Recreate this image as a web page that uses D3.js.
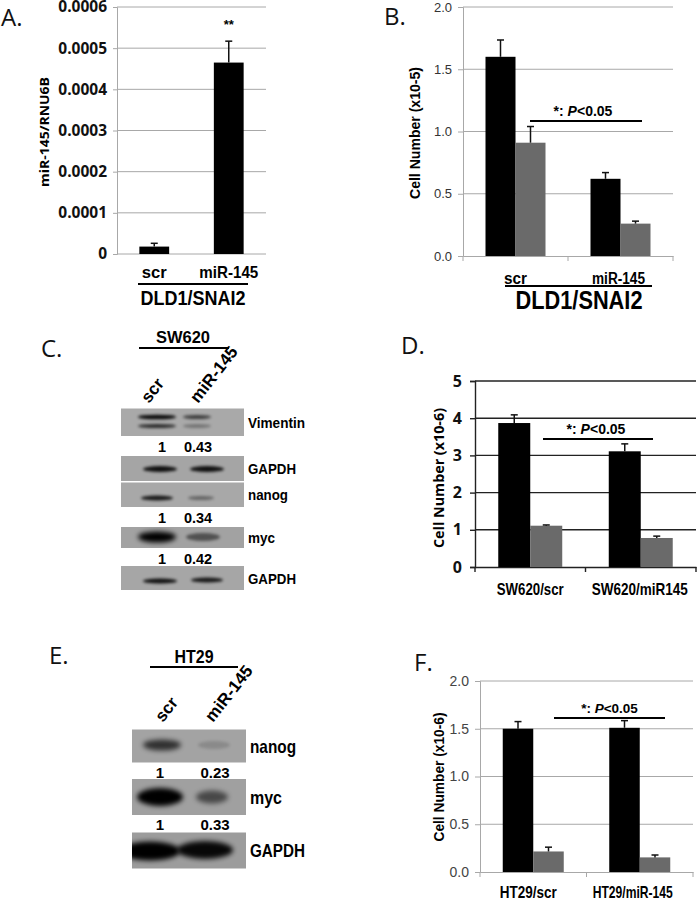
<!DOCTYPE html>
<html><head><meta charset="utf-8">
<script src="https://cdn.jsdelivr.net/npm/d3@7"></script>
<style>body{margin:0;background:#fff}svg{display:block}</style>
</head><body>
<svg id="fig" width="699" height="900"></svg>
<script>
// ---------------- DATA ----------------
const panelA_categories = ['scr', 'miR-145'];
const panelA_values = [0.000018, 0.000465];
const panelA_errors = [0.000008, 0.000052];
const panelA_ticks = [0, 0.0001, 0.0002, 0.0003, 0.0004, 0.0005, 0.0006];
const panelA_tickLabels = ['0', '0.0001', '0.0002', '0.0003', '0.0004', '0.0005', '0.0006'];

const panelB_groups = ['scr', 'miR-145'];
const panelB_black = [1.60, 0.62];
const panelB_blackErr = [0.135, 0.05];
const panelB_gray = [0.91, 0.26];
const panelB_grayErr = [0.13, 0.02];
const panelB_ticks = [0.0, 0.5, 1.0, 1.5, 2.0];
const panelB_tickLabels = ['0.0', '0.5', '1.0', '1.5', '2.0'];

const panelD_groups = ['SW620/scr', 'SW620/miR145'];
const panelD_black = [3.87, 3.11];
const panelD_blackErr = [0.22, 0.2];
const panelD_gray = [1.11, 0.78];
const panelD_grayErr = [0.02, 0.05];
const panelD_ticks = [0, 1, 2, 3, 4, 5];
const panelD_tickLabels = ['0', '1', '2', '3', '4', '5'];

const panelF_groups = ['HT29/scr', 'HT29/miR-145'];
const panelF_black = [1.50, 1.51];
const panelF_blackErr = [0.075, 0.075];
const panelF_gray = [0.215, 0.153];
const panelF_grayErr = [0.045, 0.025];
const panelF_ticks = [0.0, 0.5, 1.0, 1.5, 2.0];
const panelF_tickLabels = ['0.0', '0.5', '1.0', '1.5', '2.0'];

const blot_lanes = ['scr', 'miR-145'];
const blotC_rows = ['Vimentin', 'GAPDH', 'nanog', 'myc', 'GAPDH'];
const blotC_scr = [0.95, 0.9, 0.85, 1.0, 0.9];
const blotC_mir = [0.65, 0.9, 0.4, 0.5, 0.85];
const blotC_vimLower = [0.75, 0.35];
const blotC_quantScr = ['1', '', '1', '1', ''];
const blotC_quantMir = ['0.43', '', '0.34', '0.42', ''];

const blotE_rows = ['nanog', 'myc', 'GAPDH'];
const blotE_scr = [0.7, 1.0, 1.0];
const blotE_mir = [0.15, 0.55, 0.95];
const blotE_quantScr = ['1', '1', ''];
const blotE_quantMir = ['0.23', '0.33', ''];

// ---------------- STYLE ----------------
const svg = d3.select('#fig');
const F_CAL = "'Open Sans', 'Lato', sans-serif";
const F_ARI = "'Liberation Sans', Arial, sans-serif";
const GRAY_BAR = '#6a6a6a';

function fit(sel, w) {
  if (w) sel.attr('textLength', w).attr('lengthAdjust', 'spacingAndGlyphs');
  return sel;
}

const defs = svg.append('defs');
defs.append('filter').attr('id', 'blur').attr('x', '-50%').attr('y', '-100%').attr('width', '200%').attr('height', '300%')
  .append('feGaussianBlur').attr('stdDeviation', 1.4);
defs.append('filter').attr('id', 'blur2').attr('x', '-50%').attr('y', '-100%').attr('width', '200%').attr('height', '300%')
  .append('feGaussianBlur').attr('stdDeviation', 2.5);

function letter(t, x, y) {
  svg.append('text').attr('x', x).attr('y', y).text(t)
    .attr('font-family', F_CAL).attr('font-size', 24).attr('fill', '#111');
}
letter('A.', 1, 26); letter('B.', 384, 25); letter('C.', 41, 357);
letter('D.', 401, 354); letter('E.', 49, 664); letter('F.', 414, 671);

function errBar(g, x, y0, y1, cap, color) {
  g.append('line').attr('x1', x).attr('x2', x).attr('y1', y0).attr('y2', y1)
    .attr('stroke', color).attr('stroke-width', 1.5);
  g.append('line').attr('x1', x - cap / 2).attr('x2', x + cap / 2).attr('y1', y1).attr('y2', y1)
    .attr('stroke', color).attr('stroke-width', 1.5);
}

// ---------------- PANEL A ----------------
(function () {
  const g = svg.append('g');
  const x = d3.scaleBand().domain(panelA_categories).range([117, 266]).paddingInner(0.6).paddingOuter(0.3);
  const y = d3.scaleLinear().domain([0, 0.0006]).range([254, 7]);
  g.selectAll('line.grid').data(panelA_ticks).join('line')
    .attr('x1', 117).attr('x2', 266).attr('y1', d => y(d)).attr('y2', d => y(d))
    .attr('stroke', '#a8a8a8').attr('stroke-width', 1);
  const ax = d3.axisLeft(y).tickValues(panelA_ticks).tickFormat((d, i) => panelA_tickLabels[i]).tickSize(4).tickPadding(6);
  const ag = g.append('g').attr('transform', 'translate(117,0)').call(ax);
  ag.select('.domain').attr('stroke', '#a8a8a8');
  ag.selectAll('.tick line').attr('stroke', '#a8a8a8');
  ag.selectAll('text').attr('font-family', F_CAL).attr('font-weight', 'bold').attr('font-size', 15.5).attr('fill', '#111');
  g.selectAll('rect.bar').data(panelA_values).join('rect')
    .attr('x', (d, i) => x(panelA_categories[i])).attr('width', x.bandwidth())
    .attr('y', d => y(d)).attr('height', d => 254 - y(d)).attr('fill', '#000');
  panelA_values.forEach((v, i) => errBar(g, x(panelA_categories[i]) + x.bandwidth() / 2, y(v), y(v + panelA_errors[i]), 7, '#111'));
  g.append('text').attr('x', x('miR-145') + x.bandwidth() / 2).attr('y', 29).attr('text-anchor', 'middle')
    .text('**').attr('font-family', F_ARI).attr('font-weight', 'bold').attr('font-size', 13);
  const catW = [25, 59];
  g.selectAll('text.cat').data(panelA_categories).join('text')
    .attr('x', d => x(d) + x.bandwidth() / 2).attr('y', 277.5).attr('text-anchor', 'middle').text(d => d)
    .attr('font-family', F_ARI).attr('font-weight', 'bold').attr('font-size', 16.5)
    .each(function (d, i) { fit(d3.select(this), catW[i]); });
  g.append('line').attr('x1', 138).attr('x2', 248).attr('y1', 284).attr('y2', 284).attr('stroke', '#000').attr('stroke-width', 2);
  fit(g.append('text').attr('x', 193).attr('y', 305).attr('text-anchor', 'middle').text('DLD1/SNAI2')
    .attr('font-family', F_ARI).attr('font-weight', 'bold').attr('font-size', 21), 105);
  fit(g.append('text').attr('transform', 'translate(49,132) rotate(-90)').attr('text-anchor', 'middle')
    .text('miR-145/RNU6B').attr('font-family', F_CAL).attr('font-weight', 'bold').attr('font-size', 13), 110);
})();

// ---------------- GROUPED BAR PANELS ----------------
function groupedPanel(cfg) {
  const g = svg.append('g');
  const x0 = d3.scaleBand().domain(cfg.groups).range([cfg.left, cfg.right]);
  const x1 = d3.scaleBand().domain(['black', 'gray']).range([0, x0.bandwidth()]).paddingOuter(cfg.po);
  const y = d3.scaleLinear().domain([cfg.ticks[0], cfg.ticks[cfg.ticks.length - 1]]).range([cfg.bottom, cfg.top]);
  g.selectAll('line.grid').data(cfg.ticks.slice(1)).join('line')
    .attr('x1', cfg.left).attr('x2', cfg.right).attr('y1', d => y(d)).attr('y2', d => y(d))
    .attr('stroke', cfg.gridColor).attr('stroke-width', cfg.gridW);
  const ax = d3.axisLeft(y).tickValues(cfg.ticks).tickFormat((d, i) => cfg.tickLabels[i]).tickSize(5).tickPadding(cfg.tickPad);
  const ag = g.append('g').attr('transform', `translate(${cfg.left},0)`).call(ax);
  ag.select('.domain').attr('stroke', cfg.axisColor).attr('stroke-width', cfg.gridW);
  ag.selectAll('.tick line').attr('stroke', cfg.axisColor).attr('stroke-width', cfg.gridW);
  ag.selectAll('text').attr('font-family', cfg.tickFont).attr('font-weight', cfg.tickWeight)
    .attr('font-size', cfg.tickSize).attr('fill', cfg.tickFill);
  const bx = d3.axisBottom(x0).tickValues([]).tickSizeOuter(0);
  const bg = g.append('g').attr('transform', `translate(0,${cfg.bottom})`).call(bx);
  bg.select('.domain').attr('stroke', cfg.axisColor).attr('stroke-width', cfg.gridW);
  const bounds = [cfg.left].concat(cfg.groups.map(d => x0(d) + x0.bandwidth()));
  g.selectAll('line.bt').data(bounds).join('line')
    .attr('x1', d => d).attr('x2', d => d).attr('y1', cfg.bottom).attr('y2', cfg.bottom + 5)
    .attr('stroke', cfg.axisColor).attr('stroke-width', cfg.gridW);
  const series = [
    { key: 'black', vals: cfg.black, errs: cfg.blackErr, fill: '#000' },
    { key: 'gray', vals: cfg.gray, errs: cfg.grayErr, fill: GRAY_BAR }
  ];
  series.forEach(s => {
    g.selectAll('rect.b' + s.key).data(s.vals).join('rect')
      .attr('x', (d, i) => x0(cfg.groups[i]) + x1(s.key)).attr('width', x1.bandwidth())
      .attr('y', d => y(d)).attr('height', d => cfg.bottom - y(d)).attr('fill', s.fill);
    s.vals.forEach((v, i) => errBar(g, x0(cfg.groups[i]) + x1(s.key) + x1.bandwidth() / 2, y(v), y(v + s.errs[i]), 7, '#111'));
  });
  g.append('line').attr('x1', cfg.sig[0]).attr('x2', cfg.sig[1]).attr('y1', cfg.sig[2]).attr('y2', cfg.sig[2])
    .attr('stroke', '#000').attr('stroke-width', 2);
  const st = g.append('text').attr('x', (cfg.sig[0] + cfg.sig[1]) / 2 + cfg.sigDx).attr('y', cfg.sig[2] - 5)
    .attr('text-anchor', 'middle').attr('font-family', F_ARI).attr('font-weight', 'bold').attr('font-size', cfg.sigSize);
  st.append('tspan').text('*: ');
  st.append('tspan').text('P').attr('font-style', 'italic');
  st.append('tspan').text('<0.05');
  fit(g.append('text').attr('transform', `translate(${cfg.ylab[0]},${cfg.ylab[1]}) rotate(-90)`).attr('text-anchor', 'middle')
    .text(cfg.ylabel).attr('font-family', cfg.ylabFont).attr('font-weight', 'bold').attr('font-size', cfg.ylabSize), cfg.ylabW);
  g.selectAll('text.cat').data(cfg.groups).join('text')
    .attr('x', (d, i) => x0(d) + x0.bandwidth() / 2 + cfg.catDx[i]).attr('y', cfg.catY).attr('text-anchor', 'middle').text(d => d)
    .attr('font-family', F_ARI).attr('font-weight', 'bold').attr('font-size', cfg.catSize)
    .each(function (d, i) { fit(d3.select(this), cfg.catW[i]); });
  return g;
}

const gB = groupedPanel({
  groups: panelB_groups, black: panelB_black, blackErr: panelB_blackErr, gray: panelB_gray, grayErr: panelB_grayErr,
  ticks: panelB_ticks, tickLabels: panelB_tickLabels,
  left: 463, right: 673, top: 7, bottom: 256, po: 0.75,
  gridColor: '#a8a8a8', axisColor: '#a8a8a8', gridW: 1, tickPad: 6,
  tickFont: F_ARI, tickWeight: 'normal', tickSize: 13, tickFill: '#333',
  sig: [530, 642, 121], sigDx: -3, sigSize: 14,
  ylabel: 'Cell Number (x10-5)', ylab: [420, 133], ylabFont: F_ARI, ylabSize: 14, ylabW: 132,
  catY: 283.5, catDx: [0, -2], catSize: 16, catW: [23, 53]
});
gB.append('line').attr('x1', 505).attr('x2', 652).attr('y1', 286).attr('y2', 286).attr('stroke', '#000').attr('stroke-width', 2);
fit(gB.append('text').attr('x', 579).attr('y', 309).attr('text-anchor', 'middle').text('DLD1/SNAI2')
  .attr('font-family', F_ARI).attr('font-weight', 'bold').attr('font-size', 25), 127);

groupedPanel({
  groups: panelD_groups, black: panelD_black, blackErr: panelD_blackErr, gray: panelD_gray, grayErr: panelD_grayErr,
  ticks: panelD_ticks, tickLabels: panelD_tickLabels,
  left: 475, right: 696, top: 381, bottom: 567, po: 0.727,
  gridColor: '#222', axisColor: '#222', gridW: 1.4, tickPad: 8,
  tickFont: F_CAL, tickWeight: 'bold', tickSize: 16, tickFill: '#111',
  sig: [543, 653, 439], sigDx: -2, sigSize: 14,
  ylabel: 'Cell Number (x10-6)', ylab: [444, 478], ylabFont: F_CAL, ylabSize: 13.5, ylabW: 140,
  catY: 594.5, catDx: [0, -1], catSize: 17, catW: [67, 96]
});

groupedPanel({
  groups: panelF_groups, black: panelF_black, blackErr: panelF_blackErr, gray: panelF_gray, grayErr: panelF_grayErr,
  ticks: panelF_ticks, tickLabels: panelF_tickLabels,
  left: 480, right: 693, top: 681, bottom: 872, po: 0.746,
  gridColor: '#a8a8a8', axisColor: '#a8a8a8', gridW: 1, tickPad: 6,
  tickFont: F_ARI, tickWeight: 'normal', tickSize: 14, tickFill: '#444',
  sig: [554, 665, 718], sigDx: 0, sigSize: 13.5,
  ylabel: 'Cell Number (x10-6)', ylab: [444, 777], ylabFont: F_ARI, ylabSize: 14.5, ylabW: 129,
  catY: 897.5, catDx: [-5, -7], catSize: 17, catW: [57, 80]
});

// ---------------- BLOTS ----------------
let clipId = 0;
function blotPanel(cfg) {
  const g = svg.append('g');
  const lane = d3.scalePoint().domain(blot_lanes).range(cfg.lanes);
  fit(g.append('text').attr('x', cfg.title[0]).attr('y', cfg.title[1]).attr('text-anchor', 'middle').text(cfg.titleText)
    .attr('font-family', F_ARI).attr('font-weight', 'bold').attr('font-size', cfg.titleSize), cfg.titleW);
  g.append('line').attr('x1', cfg.tline[0]).attr('x2', cfg.tline[1]).attr('y1', cfg.tline[2]).attr('y2', cfg.tline[2])
    .attr('stroke', '#000').attr('stroke-width', 2);
  blot_lanes.forEach((l, i) => {
    fit(g.append('text').attr('transform', `translate(${cfg.rot[i][0]},${cfg.rot[i][1]}) rotate(-52)`)
      .text(l).attr('font-family', F_ARI).attr('font-weight', 'bold').attr('font-size', cfg.rotSize), cfg.rotW[i]);
  });
  cfg.rows.forEach((name, r) => {
    const [y0, y1] = cfg.boxes[r];
    const id = 'clip' + (clipId++);
    defs.append('clipPath').attr('id', id).append('rect')
      .attr('x', cfg.box[0]).attr('width', cfg.box[1] - cfg.box[0]).attr('y', y0).attr('height', y1 - y0);
    g.append('rect').attr('x', cfg.box[0]).attr('width', cfg.box[1] - cfg.box[0]).attr('y', y0).attr('height', y1 - y0)
      .attr('fill', cfg.bg[r]);
    const bandG = g.append('g').attr('clip-path', `url(#${id})`);
    fit(g.append('text').attr('x', cfg.box[1] + 4).attr('y', (y0 + y1) / 2).attr('dy', '0.36em').text(name)
      .attr('font-family', F_ARI).attr('font-weight', 'bold').attr('font-size', cfg.labSize), cfg.labW[r]);
    const ints = [cfg.scr[r], cfg.mir[r]];
    ints.forEach((v, li) => {
      const b = cfg.band[r][li];
      bandG.append('ellipse').attr('cx', lane(blot_lanes[li]) + b[0]).attr('cy', b[1]).attr('rx', b[2]).attr('ry', b[3])
        .attr('fill', '#000').attr('opacity', v).attr('filter', b[3] > 5 ? 'url(#blur2)' : 'url(#blur)');
    });
    if (cfg.lower && cfg.lower[r]) {
      cfg.lower[r].forEach((v, li) => {
        const b = cfg.band[r][li];
        bandG.append('ellipse').attr('cx', lane(blot_lanes[li]) + b[0]).attr('cy', b[1] + 9).attr('rx', b[2]).attr('ry', b[3] * 0.9)
          .attr('fill', '#000').attr('opacity', v).attr('filter', 'url(#blur)');
      });
    }
    const qs = [cfg.qScr[r], cfg.qMir[r]];
    qs.forEach((q, li) => {
      if (!q) return;
      g.append('text').attr('x', cfg.qx[li]).attr('y', y1 + cfg.qdy).attr('dy', '0.36em').attr('text-anchor', 'middle').text(q)
        .attr('font-family', F_ARI).attr('font-weight', 'bold').attr('font-size', cfg.qSize);
    });
  });
}

blotPanel({
  titleText: 'SW620', title: [183, 343], titleSize: 16, titleW: 54, tline: [139, 229, 348],
  rot: [[149, 404], [198, 404]], rotSize: 17, rotW: [null, 66],
  lanes: [158, 202], box: [121, 244],
  rows: blotC_rows, scr: blotC_scr, mir: blotC_mir, qScr: blotC_quantScr, qMir: blotC_quantMir,
  lower: [blotC_vimLower, null, null, null, null],
  boxes: [[408.5, 436], [456, 481], [482.5, 507], [527, 548], [566, 590]],
  bg: ['#a9a9a9', '#a5a5a5', '#a8a8a8', '#a2a2a2', '#a6a6a6'],
  band: [
    [[-1, 417, 19, 2.3], [-5, 417, 14, 2]],
    [[2, 469, 17, 3], [5, 469, 17, 3]],
    [[-1, 498, 16, 2.6], [-1, 498, 13, 2]],
    [[-1, 537, 19, 5.5], [1, 537, 17, 4]],
    [[2, 581, 17, 2.6], [5, 580, 16, 2.6]]
  ],
  labSize: 15.5, labW: [57, 48, 40, 27, 48], qx: [162, 198], qdy: 10.5, qSize: 14.5
});

blotPanel({
  titleText: 'HT29', title: [194, 663], titleSize: 18, titleW: 39, tline: [150, 238, 667],
  rot: [[163, 723], [213, 723]], rotSize: 17, rotW: [null, 66],
  lanes: [162, 212], box: [132, 246],
  rows: blotE_rows, scr: blotE_scr, mir: blotE_mir, qScr: blotE_quantScr, qMir: blotE_quantMir,
  lower: null,
  boxes: [[729.5, 762.5], [779, 815], [832.5, 868.5]],
  bg: ['#a3a3a3', '#a0a0a0', '#9c9c9c'],
  band: [
    [[0, 745, 19, 5.5], [2, 745, 16, 4]],
    [[-2, 797, 23, 9], [0, 797, 16, 6.5]],
    [[-12, 851, 30, 9.5], [-7, 850, 28, 9]]
  ],
  labSize: 18.5, labW: [46, 32, 55], qx: [160, 215], qdy: 10, qSize: 15
});
</script>
</body></html>
